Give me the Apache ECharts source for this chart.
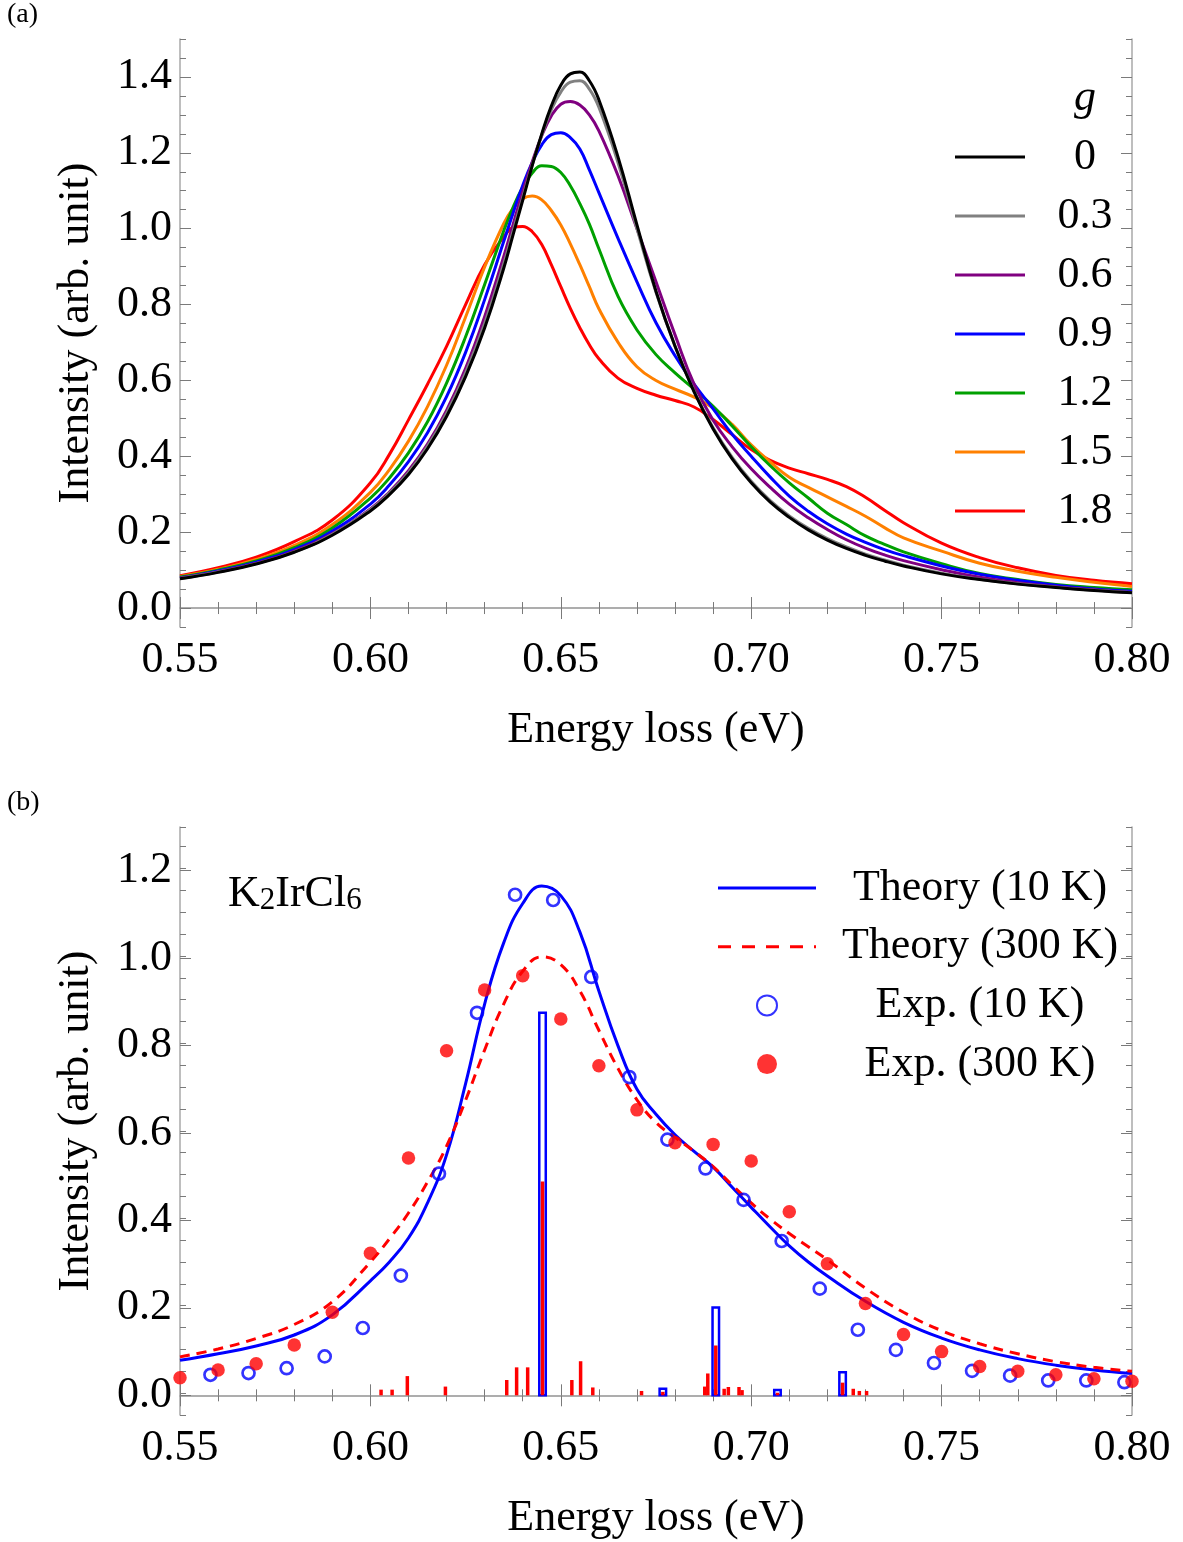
<!DOCTYPE html>
<html><head><meta charset="utf-8">
<script src="https://cdn.jsdelivr.net/npm/echarts@6/dist/echarts.min.js"></script>
<style>html,body{margin:0;padding:0;background:#fff}#c{width:1183px;height:1542px}</style>
</head><body><div id="c"></div>
<script>
// ---------- Panel (a) data ----------
const energyA = [0.55,0.56,0.57,0.58,0.59, 0.60,0.605,0.61,0.615,0.62, 0.625,0.63,0.635,0.6375,0.64, 0.6425,0.645,0.6475,0.65,0.6525, 0.655,0.6575,0.66,0.665,0.67, 0.675,0.68,0.685,0.69,0.695, 0.70,0.705,0.71,0.715,0.72, 0.725,0.73,0.735,0.74,0.75, 0.76,0.77,0.78,0.79,0.80];
const gLabels = ['0','0.3','0.6','0.9','1.2','1.5','1.8'];
const gColors = ['#000000','#808080','#800080','#0000ff','#00a000','#ff8000','#ff0000'];
const curveG00 = [0.077,0.094,0.116,0.147,0.192, 0.256,0.299,0.352,0.42,0.505, 0.61,0.738,0.895,0.985,1.075, 1.166,1.25,1.323,1.378,1.408, 1.413,1.39,1.34,1.19,1.01, 0.835,0.69,0.57,0.472,0.393, 0.33,0.279,0.239,0.206,0.179, 0.157,0.139,0.124,0.111,0.09, 0.075,0.063,0.054,0.046,0.04];
const curveG03 = [0.078,0.095,0.117,0.148,0.194, 0.259,0.303,0.357,0.426,0.513, 0.62,0.75,0.907,0.995,1.082, 1.168,1.247,1.313,1.36,1.386, 1.39,1.368,1.32,1.175,1.0, 0.832,0.69,0.572,0.475,0.397, 0.334,0.283,0.243,0.21,0.183, 0.161,0.142,0.127,0.113,0.092, 0.076,0.064,0.055,0.047,0.041];
const curveG06 = [0.079,0.096,0.118,0.150,0.196, 0.261,0.306,0.362,0.432,0.521, 0.632,0.768,0.926,1.012,1.097, 1.176,1.245,1.297,1.328,1.335, 1.326,1.3,1.258,1.14,1.0, 0.86,0.72,0.59,0.495,0.425, 0.367,0.318,0.274,0.238,0.207, 0.18,0.158,0.14,0.125,0.101, 0.081,0.067,0.056,0.048,0.041];
const curveG09 = [0.080,0.098,0.121,0.154,0.203, 0.274,0.324,0.386,0.462,0.557, 0.674,0.813,0.966,1.042,1.114, 1.175,1.221,1.248,1.253,1.24, 1.21,1.155,1.095,0.975,0.86, 0.752,0.665,0.59,0.525,0.458, 0.4,0.345,0.295,0.255,0.222, 0.195,0.173,0.154,0.138,0.111, 0.089,0.073,0.06,0.05,0.044];
const curveG12 = [0.082,0.100,0.124,0.159,0.211, 0.29,0.343,0.409,0.491,0.593, 0.715,0.853,0.994,1.057,1.109, 1.147,1.166,1.164,1.148,1.113, 1.066,1.012,0.947,0.822,0.733, 0.668,0.62,0.577,0.532,0.48, 0.425,0.375,0.33,0.29,0.25, 0.22,0.19,0.168,0.148,0.117, 0.091,0.075,0.062,0.054,0.048];
const curveG15 = [0.083,0.102,0.128,0.165,0.22, 0.305,0.365,0.44,0.531,0.64, 0.767,0.899,1.013,1.054,1.079, 1.086,1.076,1.048,1.01,0.96, 0.905,0.847,0.789,0.701,0.636, 0.6,0.577,0.556,0.527,0.484, 0.43,0.385,0.345,0.318,0.293, 0.268,0.242,0.212,0.185,0.15, 0.118,0.097,0.081,0.068,0.057];
const curveG18 = [0.085,0.106,0.134,0.175,0.232, 0.33,0.405,0.496,0.59,0.69, 0.80,0.905,0.978,1.003,1.006, 0.992,0.958,0.905,0.847,0.79, 0.739,0.694,0.657,0.606,0.579, 0.561,0.547,0.53,0.497,0.457, 0.418,0.389,0.369,0.354,0.339, 0.32,0.292,0.258,0.225,0.171, 0.133,0.106,0.086,0.073,0.064];
const curvesA = [curveG00,curveG03,curveG06,curveG09,curveG12,curveG15,curveG18];

// ---------- Panel (b) data ----------
const energyB = [0.55,0.56,0.57,0.58,0.59, 0.60,0.605,0.61,0.615,0.62, 0.625,0.63,0.635,0.64,0.645, 0.65,0.655,0.66,0.665,0.67, 0.675,0.68,0.685,0.69,0.695, 0.70,0.705,0.71,0.715,0.72, 0.73,0.74,0.75,0.76,0.77, 0.78,0.79,0.80];
const theory10K = [0.08,0.095,0.113,0.138,0.184, 0.262,0.305,0.36,0.44,0.55, 0.713,0.895,1.035,1.125,1.165, 1.143,1.06,0.925,0.80,0.70, 0.643,0.596,0.558,0.522,0.476, 0.43,0.385,0.342,0.305,0.273, 0.215,0.167,0.131,0.104,0.084, 0.069,0.058,0.05];
const theory300K = [0.088,0.106,0.13,0.162,0.214, 0.305,0.358,0.417,0.488,0.57, 0.675,0.79,0.895,0.97,1.003, 0.985,0.925,0.835,0.748,0.676, 0.624,0.59,0.558,0.523,0.481, 0.44,0.403,0.37,0.34,0.31, 0.245,0.19,0.148,0.118,0.095, 0.077,0.064,0.055];
const exp10KE = [0.558,0.568,0.578,0.588,0.598,0.608,0.618,0.628,0.638,0.648,0.658,0.668,0.678,0.688,0.698,0.708,0.718,0.728,0.738,0.748,0.758,0.768,0.778,0.788,0.798];
const exp10KI = [0.047,0.051,0.062,0.089,0.154,0.274,0.507,0.875,1.145,1.133,0.957,0.728,0.585,0.519,0.447,0.353,0.244,0.15,0.104,0.074,0.056,0.045,0.034,0.034,0.03];
const exp300KE = [0.55,0.56,0.57,0.58,0.59,0.60,0.61,0.62,0.63,0.64,0.65,0.66,0.67,0.68,0.69,0.70,0.71,0.72,0.73,0.74,0.75,0.76,0.77,0.78,0.79,0.80];
const exp300KI = [0.04,0.058,0.072,0.115,0.19,0.325,0.543,0.788,0.927,0.96,0.861,0.754,0.653,0.578,0.574,0.536,0.42,0.301,0.21,0.139,0.1,0.066,0.055,0.047,0.038,0.032];
const stickBlueE = [0.6452,0.6768,0.6907,0.7069,0.724];
const stickBlueH = [0.875,0.015,0.201,0.012,0.053];
const stickRedE = [0.6028,0.6057,0.6097,0.6197,0.6358,0.6384,0.6413,0.6452,0.6529,0.6552,0.6584,0.6712,0.6768,0.6878,0.6886,0.6907,0.6929,0.694,0.6968,0.6976,0.7069,0.724,0.7268,0.7284,0.7303];
const stickRedH = [0.013,0.013,0.044,0.020,0.035,0.064,0.064,0.489,0.035,0.078,0.018,0.010,0.008,0.020,0.050,0.114,0.015,0.019,0.019,0.012,0.006,0.029,0.015,0.010,0.010];

const xTickLabels = ['0.55','0.60','0.65','0.70','0.75','0.80'];
const yTicksA = [0,0.2,0.4,0.6,0.8,1.0,1.2,1.4];
const yTicksB = [0,0.2,0.4,0.6,0.8,1.0,1.2];

// ---------- styling helpers ----------
const FONT = 'Liberation Serif';
const frameLine = {show:true, lineStyle:{color:'#a8a8a8', width:1.5}};
const tickLine = {color:'#7a7a7a', width:1};
const txt = {fontFamily:FONT, fontSize:44, color:'#000'};
const LINE_ICON_A = 'path://M0 0H70V3H0Z';
const LINE_ICON_B = 'path://M0 0H98V3H0Z';
const DASH_ICON_B = 'path://M0 0H13V3H0Z M24 0H37V3H24Z M48 0H61V3H48Z M72 0H85V3H72Z M96 0H98V3H96Z';

function xAxisPair(grid) {
  const base = {type:'value', gridIndex:grid, min:0.55, max:0.8, interval:0.05,
    axisLine:frameLine, splitLine:{show:false}, minorSplitLine:{show:false},
    axisTick:{show:true, inside:true, length:11, lineStyle:tickLine},
    minorTick:{show:true, splitNumber:5, length:6, lineStyle:tickLine}};
  return [
    Object.assign({}, base, {position:'bottom',
      axisLabel:Object.assign({show:true, margin:11, formatter:(v)=>{const s=v.toFixed(2); return xTickLabels.includes(s)?s:'';}}, txt),
      name:'Energy loss (eV)', nameLocation:'middle', nameGap:81, nameTextStyle:txt}),
    Object.assign({}, base, {position:'top', axisLabel:{show:false}})
  ];
}
function yAxisSet(grid, min, max, ticks) {
  const fine = (pos)=>({type:'value', gridIndex:grid, position:pos, min, max, interval:0.05,
    axisLine:frameLine, splitLine:{show:false}, axisLabel:{show:false},
    axisTick:{show:true, inside:true, length:6, lineStyle:tickLine}});
  const major = (pos, lab)=>({type:'value', gridIndex:grid, position:pos, min, max,
    axisLine:{show:false}, splitLine:{show:false},
    axisTick:{show:true, inside:true, length:11, lineStyle:tickLine, customValues:ticks},
    axisLabel:lab ? Object.assign({show:true, margin:8, customValues:ticks, formatter:(v)=>v.toFixed(1)}, txt) : {show:false},
    name: lab ? 'Intensity (arb. unit)' : '', nameLocation:'middle', nameGap:82, nameTextStyle:txt});
  return [fine('left'), major('left', true), fine('right'), major('right', false)];
}

const xAxes = [...xAxisPair(0), ...xAxisPair(1)];
const yAxes = [...yAxisSet(0, -0.05, 1.5, yTicksA), ...yAxisSet(1, -0.045, 1.3, yTicksB)];

const seriesA = curvesA.map((c, k) => ({
  name: gLabels[k], type:'line', xAxisIndex:0, yAxisIndex:1,
  data: energyA.map((e, i) => [e, c[i]]),
  symbol:'none', smooth:0.45, lineStyle:{color:gColors[k], width:3}, itemStyle:{color:gColors[k]},
  z: 10 - k
}));

function stickRender(w, style) {
  return function (params, api) {
    const x = api.value(0), h = api.value(1);
    const p0 = api.coord([x, 0]);
    const p1 = api.coord([x, h]);
    return {type:'rect', shape:{x:p0[0]-w/2, y:p1[1], width:w, height:Math.max(p0[1]-p1[1], 1)}, style:style};
  };
}

const seriesB = [
  {name:'Theory (10 K)', type:'line', xAxisIndex:2, yAxisIndex:5,
   data: energyB.map((e,i)=>[e, theory10K[i]]), symbol:'none', smooth:0.45,
   lineStyle:{color:'#0000ff', width:3}, itemStyle:{color:'#0000ff'}, z:3},
  {name:'Theory (300 K)', type:'line', xAxisIndex:2, yAxisIndex:5,
   data: energyB.map((e,i)=>[e, theory300K[i]]), symbol:'none', smooth:0.45,
   lineStyle:{color:'#ff0000', width:3, type:[10,7]}, itemStyle:{color:'#ff0000'}, z:3},
  {name:'sticksBlue', type:'custom', xAxisIndex:2, yAxisIndex:5,
   data: stickBlueE.map((e,i)=>[e, stickBlueH[i]]), encode:{x:0, y:1},
   renderItem: stickRender(6.5, {fill:'none', stroke:'#0000ff', lineWidth:2.5}), z:4},
  {name:'sticksRed', type:'custom', xAxisIndex:2, yAxisIndex:5,
   data: stickRedE.map((e,i)=>[e, stickRedH[i]]), encode:{x:0, y:1},
   renderItem: stickRender(3.5, {fill:'#ff0000'}), z:5},
  {name:'Exp. (10 K)', type:'scatter', xAxisIndex:2, yAxisIndex:5,
   data: exp10KE.map((e,i)=>[e, exp10KI[i]]), symbol:'circle', symbolSize:12,
   itemStyle:{color:'rgba(255,255,255,0)', borderColor:'#0000ff', borderWidth:2.7}, z:6},
  {name:'Exp. (300 K)', type:'scatter', xAxisIndex:2, yAxisIndex:5,
   data: exp300KE.map((e,i)=>[e, exp300KI[i]]), symbol:'circle', symbolSize:13.5,
   itemStyle:{color:'#ff0000'}, z:7}
];

const chart = echarts.init(document.getElementById('c'), null, {renderer:'canvas'});
chart.setOption({
  animation:false,
  backgroundColor:'#fff',
  textStyle:{fontFamily:FONT},
  grid:[{left:180, top:39, width:952, height:588}, {left:180, top:827, width:952, height:588}],
  xAxis:xAxes, yAxis:yAxes,
  title:[
    {text:'(a)', left:7, top:1, padding:0, textStyle:{fontFamily:FONT, fontSize:28, fontWeight:'normal', color:'#000'}},
    {text:'(b)', left:7, top:789, padding:0, textStyle:{fontFamily:FONT, fontSize:28, fontWeight:'normal', color:'#000'}},
    {text:'g', left:1085, textAlign:'center', top:76, padding:0, textStyle:{fontFamily:FONT, fontSize:44, fontStyle:'italic', fontWeight:'normal', color:'#000'}},
    {text:'{n|K}{s|2}{n|IrCl}{s|6}', left:228, top:860, padding:0,
     textStyle:{fontFamily:FONT, fontSize:44, fontWeight:'normal', color:'#000',
       rich:{n:{fontFamily:FONT, fontSize:44, lineHeight:56, verticalAlign:'bottom'},
             s:{fontFamily:FONT, fontSize:31, lineHeight:30, verticalAlign:'bottom'}}}}
  ],
  legend:[
    {data:gLabels.map(n=>({name:n, icon:LINE_ICON_A})), orient:'vertical', left:950, top:127, itemWidth:70, itemHeight:14, itemGap:9,
     selectedMode:false, formatter:'{v|{name}}',
     textStyle:{fontFamily:FONT, fontSize:44, color:'#000', lineHeight:50,
       rich:{v:{width:110, align:'center', fontFamily:FONT, fontSize:44, lineHeight:50}}}},
    {data:[{name:'Theory (10 K)', icon:LINE_ICON_B}, {name:'Theory (300 K)', icon:DASH_ICON_B}, 'Exp. (10 K)', 'Exp. (300 K)'],
     orient:'vertical', left:713, top:858,
     itemWidth:98, itemHeight:20, itemGap:8.7, selectedMode:false, formatter:'{v|{name}}',
     textStyle:{fontFamily:FONT, fontSize:44, color:'#000', lineHeight:50,
       rich:{v:{width:318, align:'center', fontFamily:FONT, fontSize:44, lineHeight:50}}}}
  ],
  series:[...seriesA, ...seriesB]
});
</script></body></html>
